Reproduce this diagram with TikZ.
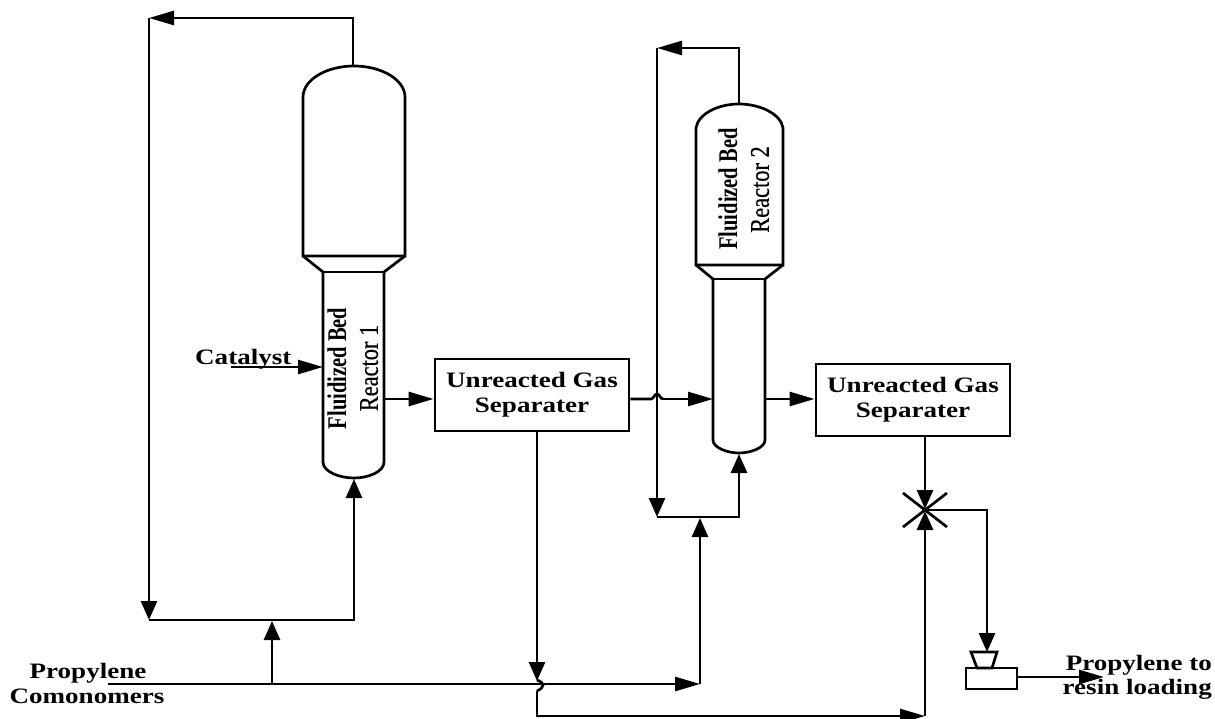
\documentclass[tikz,border=0pt]{standalone}
\usepackage{fontspec}
\setmainfont{Liberation Serif}
\usetikzlibrary{arrows.meta,calc}
\tikzset{
  ln/.style={line width=2.7pt,line join=miter,black},
  hflow/.style={ln,-{Triangle[length=25pt,width=14pt]}},
  vflow/.style={ln,-{Triangle[length=19pt,width=16pt]}},
  sepbox/.style={draw,line width=2.8pt,minimum width=194pt,minimum height=72pt,inner sep=0pt,align=center,font=\bfseries\fontsize{22}{25}\selectfont,fill=white},
  lab/.style={font=\bfseries\fontsize{22}{25}\selectfont,inner sep=0pt,align=center},
  vlab/.style={rotate=90,inner sep=0pt,font=\bfseries\fontsize{27}{30}\selectfont},
  vlabb/.style={rotate=90,inner sep=0pt,font=\fontsize{27}{30}\selectfont\addfontfeatures{FakeBold=0.4}}
}
\newcommand{\spc}[1]{\scalebox{1.23}[1]{#1}}
\begin{document}
\begin{tikzpicture}[x=1pt,y=-1pt]
\useasboundingbox (0,0) rectangle (1215,719);
% reactor 1
\draw[ln] (303,256) -- (303,97) .. controls (303,80) and (326,66) .. (354,66) .. controls (382,66) and (405,80) .. (405,97) -- (405,256) -- cycle;
\draw[ln] (303,256) -- (323,272) -- (323,462) .. controls (323,472) and (340,478) .. (354,478) .. controls (368,478) and (384,472) .. (384,462) -- (384,272) -- (405,256);
\draw[ln] (323,272) -- (384,272);
% reactor 2
\draw[ln] (696,265) -- (696,128) .. controls (698,114) and (718,104) .. (739,104) .. controls (760,104) and (781,114) .. (783,128) -- (783,265) -- cycle;
\draw[ln] (696,265) -- (713,279) -- (713,440) .. controls (713,448) and (728,453) .. (739,453) .. controls (750,453) and (765,448) .. (765,440) -- (765,279) -- (783,265);
\draw[ln] (713,279) -- (765,279);
% reactor labels
\node[vlab] (fb1) at (337,368.5) {\scalebox{0.76}[1]{Fluidized Bed}};
\node[vlabb] (r1) at (369,368) {\scalebox{0.83}[1]{Reactor 1}};
\node[vlab] (fb2) at (728,189) {\scalebox{0.76}[1]{Fluidized Bed}};
\node[vlabb] (r2) at (760,189.5) {\scalebox{0.83}[1]{Reactor 2}};
% separators
\node[sepbox] (s1) at (532,395) {\spc{Unreacted Gas}\\\spc{Separater}};
\node[sepbox] (s2) at (913,400) {\spc{Unreacted Gas}\\\spc{Separater}};
% named points
\coordinate (r1top) at (353,66);
\coordinate (r1bot) at (354,479);
\coordinate (r1in) at (323,367);
\coordinate (r1out) at (384,399);
\coordinate (r2top) at (739,104);
\coordinate (r2bot) at (739,454);
\coordinate (r2in) at (713,399);
\coordinate (r2out) at (765,399);
\coordinate (mixt) at (925,509);
\coordinate (mixb) at (925,511);
\coordinate (mixc) at (925,510);
% pump
\draw[ln] (971,652) -- (997,652) -- (992,668) -- (977,668) -- cycle;
\node[draw,line width=2.7pt,minimum width=51pt,minimum height=21pt,inner sep=0pt] (pump) at (991.5,678.5) {};
% recycle 1
\draw[hflow] (r1top) -- (353,18) -- (149,18);
\draw[vflow] (149,18) -- (149,620);
\draw[vflow] (149,620) -- (354,620) -- (r1bot);
% recycle 2
\draw[hflow] (r2top) -- (739,48) -- (657,48);
\draw[vflow] (657,48) -- (657,517);
\draw[vflow] (657,517) -- (739,517) -- (r2bot);
% feed
\draw[hflow] (108,684) -- (700,684);
\draw[vflow] (272,684) -- (272,621);
\draw[vflow] (700,684) -- (700,518);
% catalyst
\coordinate (catstart) at (231,367);
\draw[hflow] (catstart) -- (r1in);
% transfers
\draw[hflow] (r1out) -- (s1.west |- r1out);
\draw[ln] (s1.east |- r2in) -- (651,399) .. controls (654,399) and (654,394) .. (657,394) .. controls (660,394) and (660,399) .. (663,399);
\draw[hflow] (663,399) -- (r2in);
\draw[hflow] (r2out) -- (s2.west |- r2out);
\draw[vflow] (s1.south -| 537,0) -- (537,681);
\draw[ln] (537,680) .. controls (545,683) and (545,687) .. (537,691);
\draw[hflow] (537,691) -- (537,716) -- (925,716);
\draw[vflow] (925,716) -- (mixb);
\draw[vflow] (s2.south -| 925,0) -- (mixt);
% cross
\draw[ln] (903,493) -- (947,527);
\draw[ln] (903,527) -- (947,493);
\draw[vflow] (mixc) -- (987,510) -- (987,652);
% output
\coordinate (outend) at (1104,677);
\draw[hflow] (pump.east |- outend) -- (outend);
% labels
\node[lab,anchor=base west] (cat) at (195,364) {\spc{Catalyst}};
\node[lab,anchor=base] (pr) at (88,678) {\spc{Propylene}};
\node[lab,anchor=base] (co) at (87,703) {\spc{Comonomers}};
\node[lab,anchor=base east] (pt) at (1212,670) {\spc{Propylene to}};
\node[lab,anchor=base east] (rl) at (1212,694) {\spc{resin loading}};
\end{tikzpicture}
\end{document}
